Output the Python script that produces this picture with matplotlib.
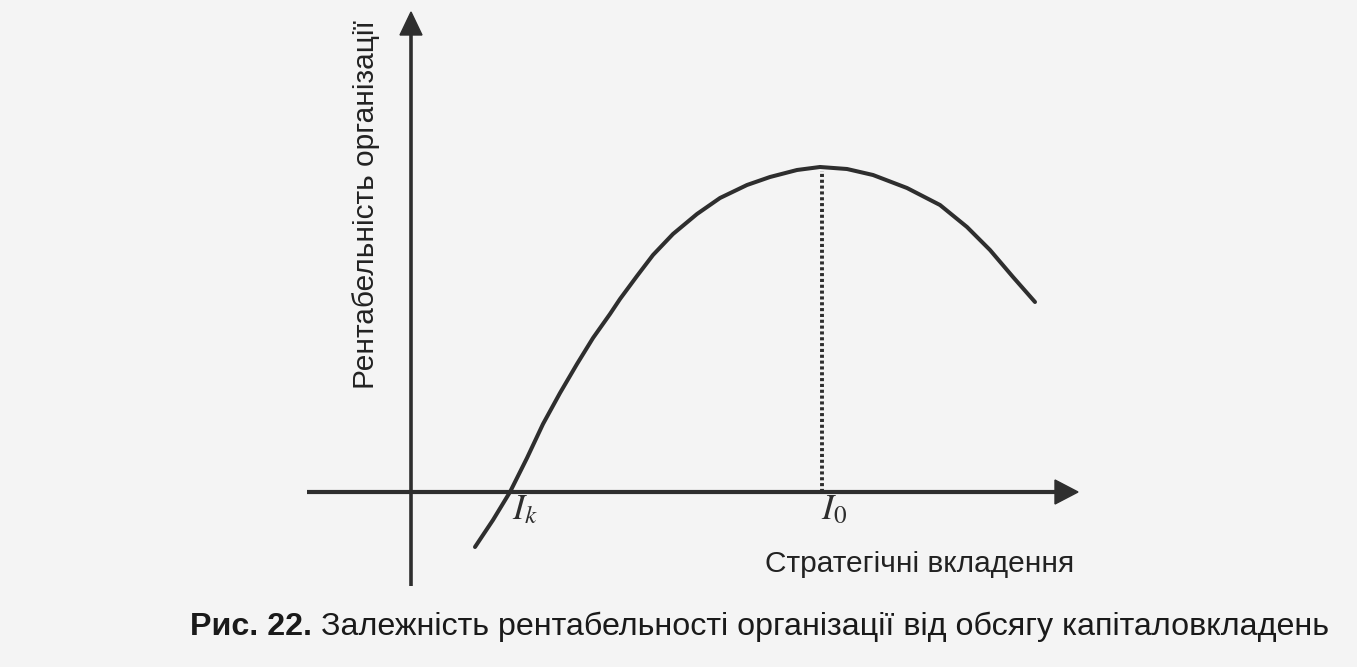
import matplotlib
matplotlib.use("Agg")
import matplotlib.pyplot as plt

plt.rcParams['mathtext.fontset'] = 'stix'

# Curve: strategic investment (x) vs profitability (y), arbitrary units
invest = [0.64, 0.82, 0.99, 1.16, 1.32, 1.49, 1.66, 1.82, 1.99, 2.09, 2.26, 2.42, 2.62, 2.86, 3.09,
          3.36, 3.59, 3.86, 4.09, 4.36, 4.62, 4.96, 5.29, 5.56, 5.79, 6.02, 6.24]
profit = [-0.55, -0.28, 0.00, 0.34, 0.68, 0.99, 1.28, 1.54, 1.78, 1.93, 2.16, 2.37, 2.58, 2.78, 2.94,
          3.07, 3.15, 3.22, 3.25, 3.23, 3.17, 3.04, 2.87, 2.65, 2.42, 2.15, 1.90]
i_k = 0.99
i_0 = 4.11
profit_max = 3.25

x_label = "Стратегічні вкладення"
y_label = "Рентабельність організації"
caption_bold = "Рис. 22."
caption_text = " Залежність рентабельності організації від обсягу капіталовкладень"

ink = '#2e2e2e'
bg = '#f4f4f4'
fig = plt.figure(figsize=(13.57, 6.67), dpi=100, facecolor=bg)
ax = fig.add_axes([0, 0, 1, 1])
ax.set_facecolor(bg)
ax.set_xlim(-4.11, 9.46)
ax.set_ylim(-1.75, 4.92)
ax.axis('off')

# axes with arrows
ax.plot([-1.04, 6.44], [0, 0], color=ink, lw=3.0, solid_capstyle='butt')
ax.plot([0, 0], [-0.94, 4.57], color=ink, lw=2.6, solid_capstyle='butt')
ax.add_patch(plt.Polygon([[6.44, 0.12], [6.67, 0.0], [6.44, -0.12]], closed=True, color=ink))
ax.add_patch(plt.Polygon([[-0.11, 4.57], [0, 4.80], [0.11, 4.57]], closed=True, color=ink))

# curve
ax.plot(invest, profit, color=ink, lw=2.9, solid_capstyle='round', solid_joinstyle='round')

# dotted line at I0
ax.plot([i_0, i_0], [0, profit_max - 0.04], color=ink, lw=2.8, linestyle=(0, (0.8, 0.7)))

# labels I_k, I_0
ax.text(i_k + 0.02, -0.17, r'$I_k$', fontsize=26, color=ink, ha='left', va='center')
ax.text(i_0 - 0.01, -0.17, r'$I_0$', fontsize=26, color=ink, ha='left', va='center')

ax.text(5.09, -0.72, x_label, fontsize=21.5, family='Liberation Sans', color='#222222',
        ha='center', va='center')
ax.text(-0.45, 2.87, y_label, fontsize=21.5, family='Liberation Sans', color='#222222',
        rotation=90, ha='center', va='center')

# caption
t1 = ax.text(-2.21, -1.35, caption_bold, fontsize=23.2, family='Liberation Sans',
             weight='bold', color='#1a1a1a', ha='left', va='center')
fig.canvas.draw()
bb = t1.get_window_extent(renderer=fig.canvas.get_renderer())
x_end = ax.transData.inverted().transform((bb.x1, bb.y0))[0]
ax.text(x_end, -1.35, caption_text, fontsize=23.2, family='Liberation Sans',
        color='#1a1a1a', ha='left', va='center')

fig.savefig('out.png', dpi=100, facecolor=fig.get_facecolor())
